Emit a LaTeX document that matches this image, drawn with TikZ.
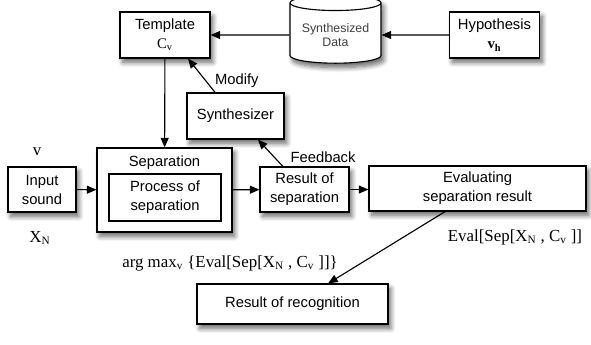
\documentclass[tikz,border=0pt]{standalone}
\usepackage{fontspec}
\setmainfont{Liberation Sans}
\newfontfamily\tnr{Liberation Serif}
\usetikzlibrary{shapes.geometric,shadows,shadows.blur,arrows.meta}

\tikzset{
  block/.style={draw, line width=0.8pt, fill=white, align=center,
    minimum height=1.15cm,
    blur shadow={shadow xshift=0.7mm, shadow yshift=-1.1mm, shadow blur steps=8, shadow blur radius=1.2mm, shadow opacity=60},
    font=\fontsize{10.5}{13.5}\selectfont},
  store/.style={cylinder, shape border rotate=90, aspect=0.2, draw, line width=0.8pt,
    fill=white, align=center, minimum width=2.275cm, minimum height=1.7cm,
    blur shadow={shadow xshift=0.7mm, shadow yshift=-1.1mm, shadow blur steps=8, shadow blur radius=1.2mm, shadow opacity=60},
    font=\fontsize{8.8}{9.5}\selectfont, text=black!75},
  note/.style={font=\tnr\fontsize{12}{14}\selectfont},
  flow/.style={line width=0.8pt, -{Triangle[length=2.4mm,width=2mm]}},
}

\begin{document}
\begin{tikzpicture}[x=0.025cm, y=-0.025cm]
  \useasboundingbox (0,0) rectangle (591,344);

  % top row
  \node[block, minimum width=2.25cm] (tmpl) at (165,35) {Template\\{\tnr C\textsubscript{v}}};
  \node[store] (data) at (335.5,35) {Synthesized\\Data};
  \node[block, minimum width=2.25cm] (hyp) at (494.5,35) {Hypothesis\\{\tnr\bfseries v\textsubscript{h}}};

  \node[block, minimum width=2.425cm] (synth) at (235.5,116) {Synthesizer};

  % separation
  \node[block, minimum width=3.375cm, minimum height=2.1cm] (sep) at (164.5,190) {};
  \node[font=\fontsize{10.5}{13.5}\selectfont] (seplbl) at (164.5,163) {Separation};
  \node[draw, line width=0.8pt, minimum width=2.8cm, minimum height=1.175cm, align=center,
    font=\fontsize{10.5}{13.5}\selectfont] (proc) at (165,197.5) {Process of\\separation};

  \node[block, minimum width=1.7cm, minimum height=1.125cm] (input) at (42,189.5) {Input\\sound};
  \node[note] (v) at (37,152) {v};
  \node[note] (xn) at (40,238) {X\textsubscript{N}};

  \node[block, minimum width=2.225cm, minimum height=1.125cm] (res) at (304.5,189.5) {Result of\\separation};
  \node[block, minimum width=5.425cm, minimum height=1.125cm] (eval) at (477.5,188.5) {Evaluating\\separation result};
  \node[note] (evaltxt) at (515,237) {Eval[Sep[X\textsubscript{N} , C\textsubscript{v} ]]};

  \node[block, minimum width=4.775cm, minimum height=1cm] (recog) at (292.5,304) {Result of recognition};
  \node[note] (argtxt) at (230,263) {arg max\textsubscript{v} \{Eval[Sep[X\textsubscript{N} , C\textsubscript{v} ]]\}};

  % connectors
  \draw[flow] (hyp) -- (data);
  \draw[flow] (data) -- (tmpl);
  \draw[flow] (tmpl) -- (sep);
  \draw[flow] ([xshift=-0.51cm]synth.north) -- node[pos=0.35, right=3pt, font=\fontsize{10.5}{13.5}\selectfont] {Modify} ([xshift=0.575cm]tmpl.south);
  \draw[flow] ([xshift=-0.54cm]res.north) -- node[pos=0.35, right=8pt, font=\fontsize{10.5}{13.5}\selectfont] {Feedback} ([xshift=0.56cm]synth.south);
  \draw[flow] (input) -- (sep);
  \draw[flow] (sep) -- (res);
  \draw[flow] (res.east) -- (res.east -| eval.west);
  \draw[flow] ([xshift=-0.81cm]eval.south) -- ([xshift=0.89cm]recog.north);

\end{tikzpicture}
\end{document}
